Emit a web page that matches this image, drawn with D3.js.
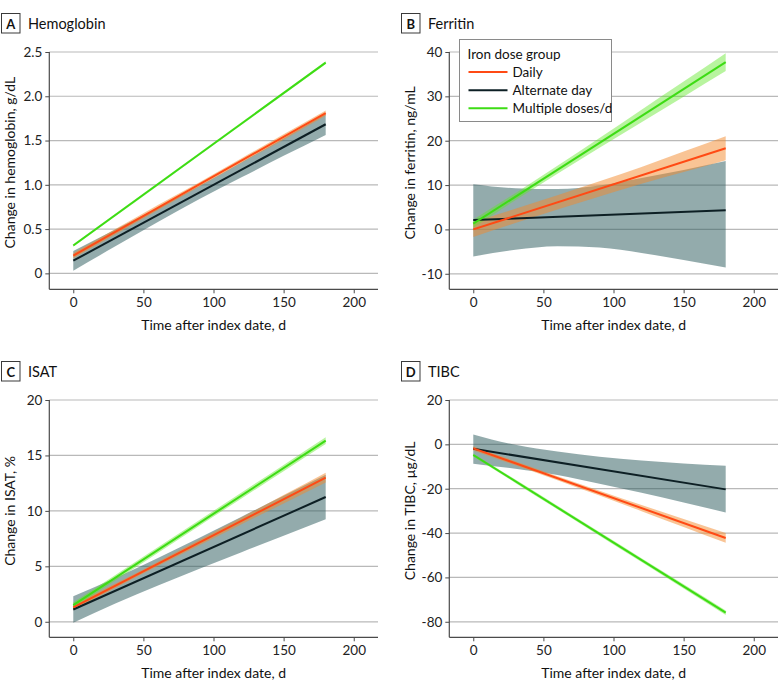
<!DOCTYPE html>
<html>
<head>
<meta charset="utf-8">
<script src="https://cdn.jsdelivr.net/npm/d3@7"></script>
<style>
  html, body { margin: 0; padding: 0; background: #fff; }
  svg { display: block; font-family: Lato, "Open Sans", sans-serif; }
</style>
</head>
<body>
<svg id="chart" width="780" height="690"></svg>
<script>
// ---------------- DATA ----------------
const groups = ["Daily", "Alternate day", "Multiple doses/d"];
const lineDays = [0, 180];
const bandDays = [0, 30, 60, 90, 120, 150, 180];
const xTicks = [0, 50, 100, 150, 200];
const xLabel = "Time after index date, d";

// A Hemoglobin
const hgbDaily = [0.20, 1.81];
const hgbAlt = [0.143, 1.684];
const hgbMulti = [0.315, 2.38];
const hgbDailyLo = [0.17, 0.44, 0.71, 0.98, 1.25, 1.51, 1.78];
const hgbDailyHi = [0.23, 0.50, 0.77, 1.03, 1.30, 1.57, 1.84];
const hgbAltLo = [0.03, 0.305, 0.577, 0.839, 1.085, 1.327, 1.564];
const hgbAltHi = [0.253, 0.495, 0.737, 0.989, 1.255, 1.527, 1.804];
const hgbMultiLo = [0.30, 0.644, 0.988, 1.333, 1.677, 2.021, 2.365];
const hgbMultiHi = [0.33, 0.674, 1.018, 1.363, 1.707, 2.051, 2.395];
const hgbTicks = [0, 0.5, 1.0, 1.5, 2.0, 2.5];
const hgbTickLabels = ["0", "0.5", "1.0", "1.5", "2.0", "2.5"];

// B Ferritin
const ferDaily = [0, 18.3];
const ferAlt = [2.1, 4.3];
const ferMulti = [1.3, 37.7];
const ferDailyLo = [-1.7, 1.45, 4.5, 7.45, 10.3, 12.95, 15.6];
const ferDailyHi = [1.7, 4.65, 7.7, 10.85, 14.1, 17.55, 21.0];
const ferAltLo = [-6.1, -4.6, -3.8, -4.1, -5.3, -6.9, -8.6];
const ferAltHi = [10.2, 9.3, 9.1, 9.9, 11.6, 13.4, 15.4];
const ferMultiLo = [0.4, 6.57, 12.53, 18.4, 24.17, 29.93, 35.7];
const ferMultiHi = [2.2, 8.17, 14.33, 20.6, 26.97, 33.33, 39.7];
const ferTicks = [-10, 0, 10, 20, 30, 40];
const ferTickLabels = ["-10", "0", "10", "20", "30", "40"];

// C ISAT
const isatDaily = [1.3, 13.0];
const isatAlt = [1.11, 11.25];
const isatMulti = [1.5, 16.33];
const isatDailyLo = [1.05, 3.05, 5.0, 6.9, 8.8, 10.67, 12.55];
const isatDailyHi = [1.55, 3.45, 5.4, 7.4, 9.4, 11.43, 13.45];
const isatAltLo = [-0.09, 1.65, 3.24, 4.78, 6.27, 7.76, 9.25];
const isatAltHi = [2.31, 3.95, 5.74, 7.58, 9.47, 11.36, 13.25];
const isatMultiLo = [1.25, 3.72, 6.19, 8.66, 11.12, 13.58, 16.03];
const isatMultiHi = [1.75, 4.22, 6.69, 9.18, 11.66, 14.14, 16.63];
const isatTicks = [0, 5, 10, 15, 20];
const isatTickLabels = ["0", "5", "10", "15", "20"];

// D TIBC
const tibcDaily = [-1.8, -42.2];
const tibcAlt = [-2.0, -20.3];
const tibcMulti = [-4.8, -75.9];
const tibcDailyLo = [-2.8, -9.43, -16.17, -23.1, -30.13, -37.27, -44.4];
const tibcDailyHi = [-0.8, -7.63, -14.37, -20.9, -27.33, -33.67, -40.0];
const tibcAltLo = [-8.7, -11.0, -13.8, -17.8, -21.8, -26.2, -30.7];
const tibcAltHi = [4.5, -0.2, -3.2, -5.6, -7.3, -8.6, -9.6];
const tibcMultiLo = [-5.5, -17.4, -29.3, -41.2, -53.1, -65.0, -76.9];
const tibcMultiHi = [-4.1, -15.9, -27.7, -39.5, -51.3, -63.1, -74.9];
const tibcTicks = [-80, -60, -40, -20, 0, 20];
const tibcTickLabels = ["-80", "-60", "-40", "-20", "0", "20"];

// ---------------- STYLE ----------------
const colors = { "Daily": "#ff4a14", "Alternate day": "#0d1f24", "Multiple doses/d": "#3ddc14" };
const bandColors = { "Daily": "#f38a2c", "Alternate day": "#2f5d5f", "Multiple doses/d": "#62e62a" };
const bandOpacity = { "Daily": 0.5, "Alternate day": 0.52, "Multiple doses/d": 0.45 };

const panels = [
  { letter: "A", title: "Hemoglobin", ylab: "Change in hemoglobin, g/dL", ox: 0, oy: 0,
    domain: [-0.18, 2.5], ticks: hgbTicks, labels: hgbTickLabels,
    lines: [hgbDaily, hgbAlt, hgbMulti], lo: [hgbDailyLo, hgbAltLo, hgbMultiLo], hi: [hgbDailyHi, hgbAltHi, hgbMultiHi] },
  { letter: "B", title: "Ferritin", ylab: "Change in ferritin, ng/mL", ox: 400, oy: 0,
    domain: [-13.5, 40], ticks: ferTicks, labels: ferTickLabels, legend: true,
    lines: [ferDaily, ferAlt, ferMulti], lo: [ferDailyLo, ferAltLo, ferMultiLo], hi: [ferDailyHi, ferAltHi, ferMultiHi] },
  { letter: "C", title: "ISAT", ylab: "Change in ISAT, %", ox: 0, oy: 348,
    domain: [-1.4, 20], ticks: isatTicks, labels: isatTickLabels,
    lines: [isatDaily, isatAlt, isatMulti], lo: [isatDailyLo, isatAltLo, isatMultiLo], hi: [isatDailyHi, isatAltHi, isatMultiHi] },
  { letter: "D", title: "TIBC", ylab: "Change in TIBC, µg/dL", ox: 400, oy: 348,
    domain: [-87, 20], ticks: tibcTicks, labels: tibcTickLabels,
    lines: [tibcDaily, tibcAlt, tibcMulti], lo: [tibcDailyLo, tibcAltLo, tibcMultiLo], hi: [tibcDailyHi, tibcAltHi, tibcMultiHi] }
];

const L = 49.3, R = 378, T = 52, B = 289.3;
const svg = d3.select("#chart");

panels.forEach(p => {
  const g = svg.append("g").attr("transform", `translate(${p.ox},${p.oy})`);
  const x = d3.scaleLinear().domain([-17.1, 217.3]).range([L, R]);
  const y = d3.scaleLinear().domain(p.domain).range([B, T]);

  // title
  g.append("rect").attr("x", 1.5).attr("y", 13.5).attr("width", 18.5).attr("height", 19.5)
    .attr("fill", "#fff").attr("stroke", "#3a3a3a").attr("stroke-width", 1);
  g.append("text").attr("x", 10.75).attr("y", 23.5).attr("text-anchor", "middle")
    .attr("dominant-baseline", "central").attr("font-weight", "bold").attr("font-size", 13)
    .attr("fill", "#111").text(p.letter);
  g.append("text").attr("x", 28).attr("y", 23.5).attr("dominant-baseline", "central")
    .attr("font-size", 14.5).attr("fill", "#111").text(p.title);

  // gridlines
  g.append("g").selectAll("line").data(p.ticks).join("line")
    .attr("x1", L).attr("x2", R).attr("y1", d => y(d)).attr("y2", d => y(d))
    .attr("stroke", "#b9b9b9").attr("stroke-width", 1.2);

  // y axis
  const yAxis = d3.axisLeft(y).tickValues(p.ticks).tickFormat((d, i) => p.labels[i])
    .tickSize(4).tickPadding(3);
  const ya = g.append("g").attr("transform", `translate(${L},0)`).call(yAxis);
  ya.select(".domain").remove();
  ya.append("line").attr("x1", 0).attr("x2", 0).attr("y1", y(p.ticks[p.ticks.length - 1])).attr("y2", B)
    .attr("stroke", "#4a4a4a").attr("stroke-width", 1.2);
  ya.selectAll(".tick line").attr("stroke", "#4a4a4a");
  ya.selectAll(".tick text").attr("font-size", 13.5).attr("fill", "#222").attr("font-family", "Lato");

  // x axis
  const xAxis = d3.axisBottom(x).tickValues(xTicks).tickFormat(d3.format("d")).tickSize(4).tickPadding(4);
  const xa = g.append("g").attr("transform", `translate(0,${B})`).call(xAxis);
  xa.select(".domain").attr("stroke", "#4a4a4a").attr("stroke-width", 1.2)
    .attr("d", `M${L},0H${R}`);
  xa.selectAll(".tick line").attr("stroke", "#4a4a4a");
  xa.selectAll(".tick text").attr("font-size", 13.5).attr("fill", "#222").attr("font-family", "Lato");

  // axis labels
  g.append("text").attr("x", (L + R) / 2).attr("y", 324).attr("text-anchor", "middle")
    .attr("dominant-baseline", "central").attr("font-size", 14).attr("fill", "#111").text(xLabel);
  const yMid = (y(p.ticks[0]) + y(p.ticks[p.ticks.length - 1])) / 2;
  const zeroMid = (y(0) + y(p.ticks[p.ticks.length - 1])) / 2;
  g.append("text").attr("transform", `translate(9.5,${(T + y(p.ticks[0])) / 2}) rotate(-90)`)
    .attr("text-anchor", "middle").attr("dominant-baseline", "central")
    .attr("font-size", 14).attr("fill", "#111").text(p.ylab);

  // bands: alternate first, then daily, then multiple
  const order = [1, 0, 2];
  const area = d3.area().x(d => x(d.d)).y0(d => y(d.lo)).y1(d => y(d.hi));
  order.forEach(i => {
    const data = bandDays.map((d, k) => ({ d: d, lo: p.lo[i][k], hi: p.hi[i][k] }));
    g.append("path").datum(data).attr("d", area.curve(d3.curveMonotoneX))
      .attr("fill", bandColors[groups[i]]).attr("fill-opacity", bandOpacity[groups[i]]);
  });
  const line = d3.line().x(d => x(d.d)).y(d => y(d.v));
  order.forEach(i => {
    const data = lineDays.map((d, k) => ({ d: d, v: p.lines[i][k] }));
    g.append("path").datum(data).attr("d", line).attr("fill", "none")
      .attr("stroke", colors[groups[i]]).attr("stroke-width", 2);
  });

  if (p.legend) {
    const lg = g.append("g");
    lg.append("rect").attr("x", 59.5).attr("y", 39.5).attr("width", 152).attr("height", 82)
      .attr("fill", "#fff").attr("stroke", "#8a8a8a").attr("stroke-width", 1);
    lg.append("text").attr("x", 67.5).attr("y", 53.5).attr("dominant-baseline", "central")
      .attr("font-size", 13.5).attr("fill", "#111").text("Iron dose group");
    const ys = [72, 90.3, 108.3];
    groups.forEach((gname, i) => {
      lg.append("line").attr("x1", 68.5).attr("x2", 107.5).attr("y1", ys[i]).attr("y2", ys[i])
        .attr("stroke", colors[gname]).attr("stroke-width", 2);
      lg.append("text").attr("x", 112.5).attr("y", ys[i]).attr("dominant-baseline", "central")
        .attr("font-size", 13.5).attr("fill", "#111").text(gname);
    });
  }
});
</script>
</body>
</html>
